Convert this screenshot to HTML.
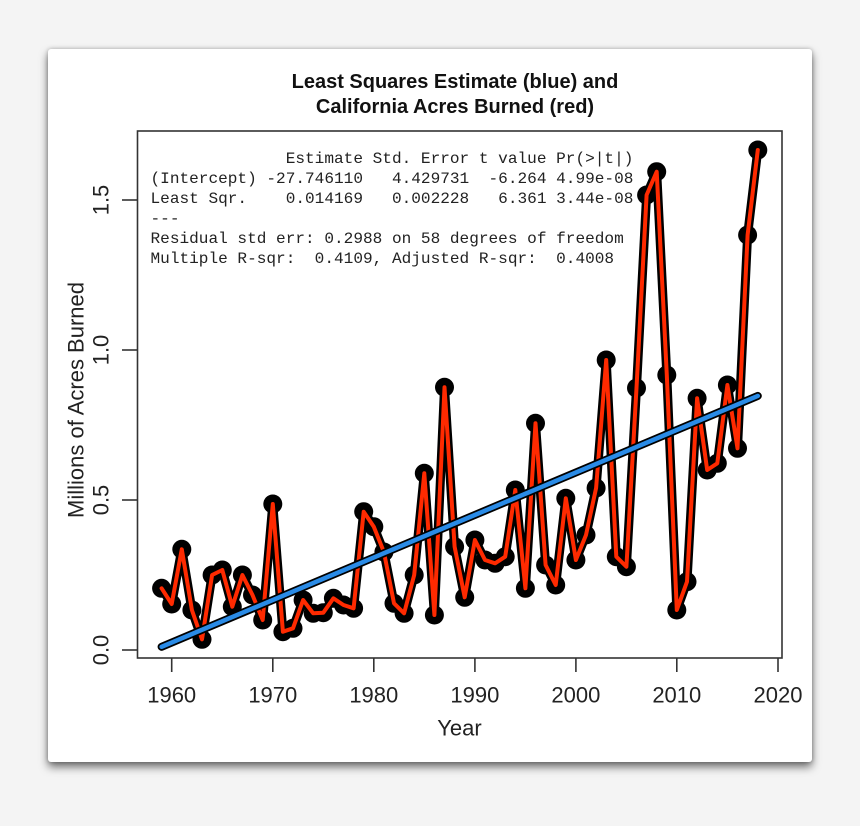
<!DOCTYPE html>
<html>
<head>
<meta charset="utf-8">
<style>
  html,body{margin:0;padding:0;background:#f4f4f4;}
  body{width:860px;height:826px;position:relative;overflow:hidden;}
  .card{position:absolute;left:48px;top:49px;width:764px;height:713px;background:#fff;border-radius:3px;box-shadow:0 5px 9px rgba(0,0,0,0.55),0 0 4px rgba(0,0,0,0.25);}
  svg{position:absolute;left:0;top:0;}
</style>
</head>
<body>
<div class="card"></div>
<svg width="860" height="826" viewBox="0 0 860 826" xmlns="http://www.w3.org/2000/svg">
  <!-- Title -->
  <g font-family="Liberation Sans, Arial, sans-serif" font-weight="bold" font-size="20" fill="#111" text-anchor="middle">
    <text x="455" y="88">Least Squares Estimate (blue) and</text>
    <text x="455" y="113">California Acres Burned (red)</text>
  </g>

  <!-- Stats text -->
  <g font-family="Liberation Mono, Courier New, monospace" font-size="16.1" fill="#222" xml:space="preserve">
    <text x="150.5" y="163" xml:space="preserve">              Estimate Std. Error t value Pr(&gt;|t|)</text>
    <text x="150.5" y="183" xml:space="preserve">(Intercept) -27.746110   4.429731  -6.264 4.99e-08</text>
    <text x="150.5" y="203" xml:space="preserve">Least Sqr.    0.014169   0.002228   6.361 3.44e-08</text>
    <text x="150.5" y="223" xml:space="preserve">---</text>
    <text x="150.5" y="243" xml:space="preserve">Residual std err: 0.2988 on 58 degrees of freedom</text>
    <text x="150.5" y="263" xml:space="preserve">Multiple R-sqr:  0.4109, Adjusted R-sqr:  0.4008</text>
  </g>

  <!-- Data: black thick line + points -->
  <g id="pts">
    <polyline fill="none" stroke="#000" stroke-width="9" stroke-linejoin="round" stroke-linecap="round"
      points="161.6,588.3 171.7,604 181.8,549.3 191.9,610 202.0,639.3 212.1,575 222.3,570 232.3,606.7 242.4,575 252.5,595 262.7,620 272.8,504 282.9,631.7 293.0,628.3 303.1,600 313.2,613.3 323.3,612.7 333.4,598.3 343.5,605 353.6,608.3 363.7,511.7 373.8,526.7 383.9,552 394.0,603.3 404.1,613.3 414.2,575 424.3,473.3 434.4,615 444.5,387.3 454.6,546.7 464.7,597.3 474.9,540 485.0,560 495.1,563.3 505.2,556.7 515.3,490 525.4,588.3 535.5,423.3 545.6,565 555.7,585 565.8,498.3 575.9,560 586.0,535 596.1,488 606.2,360 616.3,556.7 626.4,566.7 636.5,388 646.6,195 656.7,171.7 666.8,375 676.8,610 687.0,581.7 697.1,398.3 707.2,470 717.3,463.3 727.4,385 737.5,448.3 747.6,235 757.8,150"/>
    <g fill="#000">
      <circle cx="161.6" cy="588.3" r="9.5"/><circle cx="171.7" cy="604" r="9.5"/><circle cx="181.8" cy="549.3" r="9.5"/><circle cx="191.9" cy="610" r="9.5"/><circle cx="202.0" cy="639.3" r="9.5"/><circle cx="212.1" cy="575" r="9.5"/><circle cx="222.3" cy="570" r="9.5"/><circle cx="232.3" cy="606.7" r="9.5"/><circle cx="242.4" cy="575" r="9.5"/><circle cx="252.5" cy="595" r="9.5"/><circle cx="262.7" cy="620" r="9.5"/><circle cx="272.8" cy="504" r="9.5"/><circle cx="282.9" cy="631.7" r="9.5"/><circle cx="293.0" cy="628.3" r="9.5"/><circle cx="303.1" cy="600" r="9.5"/><circle cx="313.2" cy="613.3" r="9.5"/><circle cx="323.3" cy="612.7" r="9.5"/><circle cx="333.4" cy="598.3" r="9.5"/><circle cx="343.5" cy="605" r="9.5"/><circle cx="353.6" cy="608.3" r="9.5"/><circle cx="363.7" cy="511.7" r="9.5"/><circle cx="373.8" cy="526.7" r="9.5"/><circle cx="383.9" cy="552" r="9.5"/><circle cx="394.0" cy="603.3" r="9.5"/><circle cx="404.1" cy="613.3" r="9.5"/><circle cx="414.2" cy="575" r="9.5"/><circle cx="424.3" cy="473.3" r="9.5"/><circle cx="434.4" cy="615" r="9.5"/><circle cx="444.5" cy="387.3" r="9.5"/><circle cx="454.6" cy="546.7" r="9.5"/><circle cx="464.7" cy="597.3" r="9.5"/><circle cx="474.9" cy="540" r="9.5"/><circle cx="485.0" cy="560" r="9.5"/><circle cx="495.1" cy="563.3" r="9.5"/><circle cx="505.2" cy="556.7" r="9.5"/><circle cx="515.3" cy="490" r="9.5"/><circle cx="525.4" cy="588.3" r="9.5"/><circle cx="535.5" cy="423.3" r="9.5"/><circle cx="545.6" cy="565" r="9.5"/><circle cx="555.7" cy="585" r="9.5"/><circle cx="565.8" cy="498.3" r="9.5"/><circle cx="575.9" cy="560" r="9.5"/><circle cx="586.0" cy="535" r="9.5"/><circle cx="596.1" cy="488" r="9.5"/><circle cx="606.2" cy="360" r="9.5"/><circle cx="616.3" cy="556.7" r="9.5"/><circle cx="626.4" cy="566.7" r="9.5"/><circle cx="636.5" cy="388" r="9.5"/><circle cx="646.6" cy="195" r="9.5"/><circle cx="656.7" cy="171.7" r="9.5"/><circle cx="666.8" cy="375" r="9.5"/><circle cx="676.8" cy="610" r="9.5"/><circle cx="687.0" cy="581.7" r="9.5"/><circle cx="697.1" cy="398.3" r="9.5"/><circle cx="707.2" cy="470" r="9.5"/><circle cx="717.3" cy="463.3" r="9.5"/><circle cx="727.4" cy="385" r="9.5"/><circle cx="737.5" cy="448.3" r="9.5"/><circle cx="747.6" cy="235" r="9.5"/><circle cx="757.8" cy="150" r="9.5"/>
    </g>
    <polyline fill="none" stroke="#ff2a00" stroke-width="4" stroke-linejoin="round" stroke-linecap="round"
      points="161.6,588.3 171.7,604 181.8,549.3 191.9,610 202.0,639.3 212.1,575 222.3,570 232.3,606.7 242.4,575 252.5,595 262.7,620 272.8,504 282.9,631.7 293.0,628.3 303.1,600 313.2,613.3 323.3,612.7 333.4,598.3 343.5,605 353.6,608.3 363.7,511.7 373.8,526.7 383.9,552 394.0,603.3 404.1,613.3 414.2,575 424.3,473.3 434.4,615 444.5,387.3 454.6,546.7 464.7,597.3 474.9,540 485.0,560 495.1,563.3 505.2,556.7 515.3,490 525.4,588.3 535.5,423.3 545.6,565 555.7,585 565.8,498.3 575.9,560 586.0,535 596.1,488 606.2,360 616.3,556.7 626.4,566.7 636.5,388 646.6,195 656.7,171.7 666.8,375 676.8,610 687.0,581.7 697.1,398.3 707.2,470 717.3,463.3 727.4,385 737.5,448.3 747.6,235 757.8,150"/>
  </g>

  <!-- Regression line -->
  <line x1="161.6" y1="646.8" x2="757.8" y2="395.9" stroke="#000" stroke-width="8" stroke-linecap="round"/>
  <line x1="161.6" y1="646.8" x2="757.8" y2="395.9" stroke="#2a8be6" stroke-width="4.5" stroke-linecap="round"/>

  <!-- Frame -->
  <rect x="137.5" y="131" width="644.5" height="527" fill="none" stroke="#333" stroke-width="1.6"/>

  <!-- X axis ticks -->
  <g stroke="#333" stroke-width="1.6">
    <line x1="171.7" y1="658" x2="171.7" y2="672"/>
    <line x1="272.8" y1="658" x2="272.8" y2="672"/>
    <line x1="373.8" y1="658" x2="373.8" y2="672"/>
    <line x1="474.9" y1="658" x2="474.9" y2="672"/>
    <line x1="575.9" y1="658" x2="575.9" y2="672"/>
    <line x1="676.8" y1="658" x2="676.8" y2="672"/>
    <line x1="778" y1="658" x2="778" y2="672"/>
    <!-- Y ticks -->
    <line x1="122" y1="650" x2="137.5" y2="650"/>
    <line x1="122" y1="500" x2="137.5" y2="500"/>
    <line x1="122" y1="350" x2="137.5" y2="350"/>
    <line x1="122" y1="200" x2="137.5" y2="200"/>
  </g>

  <g font-family="Liberation Sans, Arial, sans-serif" font-size="22" fill="#222" text-anchor="middle">
    <text x="171.7" y="702.5">1960</text>
    <text x="272.8" y="702.5">1970</text>
    <text x="373.8" y="702.5">1980</text>
    <text x="474.9" y="702.5">1990</text>
    <text x="575.9" y="702.5">2000</text>
    <text x="676.8" y="702.5">2010</text>
    <text x="778" y="702.5">2020</text>
    <text transform="translate(108.5,650) rotate(-90)">0.0</text>
    <text transform="translate(108.5,500) rotate(-90)">0.5</text>
    <text transform="translate(108.5,350) rotate(-90)">1.0</text>
    <text transform="translate(108.5,200) rotate(-90)">1.5</text>
    <text x="459.5" y="735.5">Year</text>
    <text transform="translate(83.3,400) rotate(-90)">Millions of Acres Burned</text>
  </g>
</svg>
</body>
</html>
